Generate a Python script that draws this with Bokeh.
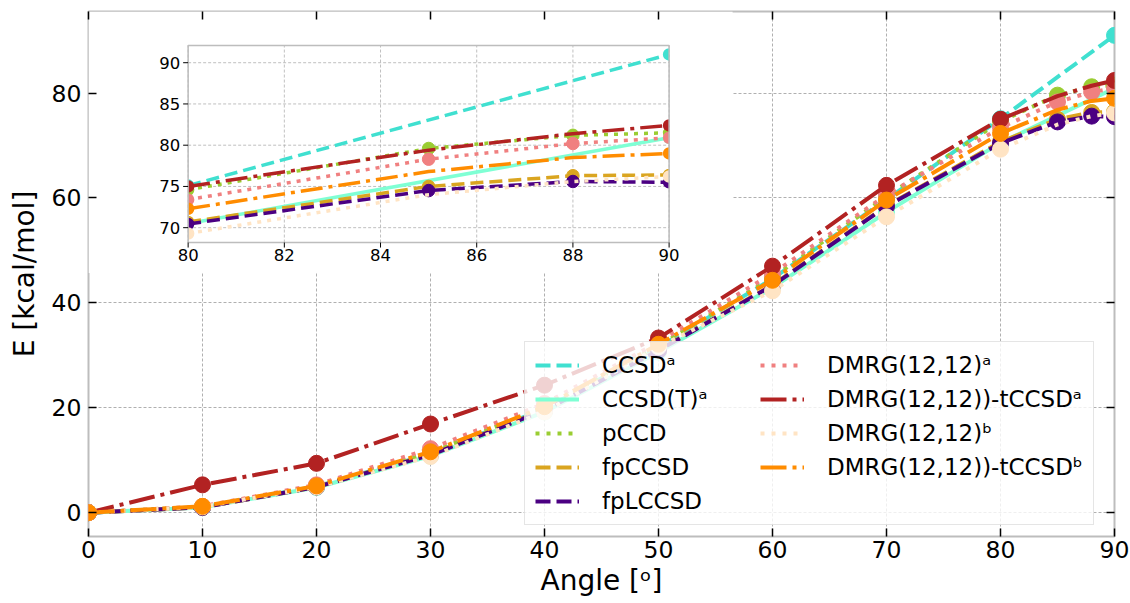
from bokeh.plotting import figure
from bokeh.models import Range1d, LinearAxis, FixedTicker, Legend, LegendItem
from bokeh.embed import file_html
from bokeh.resources import INLINE
from bokeh.core.properties import value

# ---------------- data ----------------
ANGLES = [0, 10, 20, 30, 40, 50, 60, 70, 80, 85, 88, 90]
ANGLES_SHORT = [0, 10, 20, 30, 40, 50, 60, 70, 80, 90]

CCSD_A = [0, 1.1, 5.0, 11.2, 19.8, 31.5, 44.6, 59.7, 75.1, 91.0]
CCSDT_A = [0, 1.0, 4.8, 10.8, 19.2, 30.6, 42.9, 57.3, 70.5, 80.9]
PCCD = [0, 1.1, 5.1, 11.4, 20.1, 31.8, 44.8, 60.3, 74.6, 79.6, 81.2, 81.5]
FPCCSD = [0, 1.0, 4.9, 11.1, 19.6, 31.0, 43.4, 58.5, 70.7, 75.0, 76.3, 76.4]
FPLCCSD = [0, 1.0, 4.9, 11.0, 19.5, 30.9, 43.3, 58.4, 70.45, 74.5, 75.6, 75.5]
DMRG_A = [0, 1.2, 5.3, 12.2, 20.8, 32.5, 45.6, 60.6, 73.4, 78.3, 80.2, 80.9]
TCCSD_A = [0, 5.3, 9.4, 16.9, 24.3, 33.3, 47.0, 62.4, 75.0, 79.4, 81.4, 82.4]
DMRG_B = [0, 1.1, 4.9, 10.7, 19.2, 31.6, 42.3, 56.4, 69.3, 74.0, 75.6, 76.2]
TCCSD_B = [0, 1.2, 5.1, 11.6, 20.2, 32.1, 44.3, 59.6, 72.3, 76.8, 78.5, 79.0]

LABELS = ["CCSDᵃ", "CCSD(T)ᵃ", "pCCD", "fpCCSD", "fpLCCSD",
          "DMRG(12,12)ᵃ", "DMRG(12,12))-tCCSDᵃ", "DMRG(12,12)ᵇ", "DMRG(12,12))-tCCSDᵇ"]
COLORS = ["turquoise", "aquamarine", "yellowgreen", "goldenrod", "indigo",
          "lightcoral", "firebrick", "bisque", "darkorange"]
STYLES = ["dashed", "solid", "dotted", "dashed", "dashed",
          "dotted", "dashdot", "dotted", "dashdot"]

X_TICKS = [0, 10, 20, 30, 40, 50, 60, 70, 80, 90]
Y_TICKS = [0, 20, 40, 60, 80]
INSET_X_TICKS = [80, 82, 84, 86, 88, 90]
INSET_Y_TICKS = [70, 75, 80, 85, 90]

SERIES = [
    (CCSD_A, ANGLES_SHORT, ANGLES_SHORT),
    (CCSDT_A, ANGLES_SHORT, ANGLES_SHORT),
    (PCCD, ANGLES, ANGLES),
    (FPCCSD, ANGLES, ANGLES),
    (FPLCCSD, ANGLES, ANGLES),
    (DMRG_A, ANGLES, ANGLES),
    (TCCSD_A, ANGLES, ANGLES_SHORT),
    (DMRG_B, ANGLES, ANGLES_SHORT),
    (TCCSD_B, ANGLES, ANGLES_SHORT),
]

# ---------------- layout / style ----------------
X_RANGE = (0, 90)
Y_RANGE = (-4.55, 95.55)
INSET_XLIM = (80, 90)
INSET_YLIM = (68.2, 92.1)
# where the inset frame sits, in main-axes data units
INSET_POS = dict(left=8.74, right=50.93, bottom=51.5, top=89.09)
# white backdrop behind the inset and its tick labels
INSET_BG = dict(left=0, right=56.5, bottom=45.7, top=95.55)

DASH_MAIN = {"dashed": "15 6", "dotted": "4 7", "dashdot": "26 6 4 6", "solid": "solid"}
DASH_INSET = {"dashed": "13 6", "dotted": "4 6", "dashdot": "22 6 4 6", "solid": "solid"}
FONT = "DejaVu Sans"
GRID_COLOR = "#b0b0b0"
SPINE_COLOR = "#bdbdbd"

p = figure(width=1130, height=603,
           x_range=Range1d(*X_RANGE), y_range=Range1d(*Y_RANGE),
           output_backend="svg", toolbar_location=None,
           min_border_left=88, min_border_right=16, min_border_top=11, min_border_bottom=67)
p.background_fill_color = "white"
p.border_fill_color = "white"
p.outline_line_color = SPINE_COLOR
p.outline_line_width = 2

p.xaxis.ticker = FixedTicker(ticks=X_TICKS)
p.yaxis.ticker = FixedTicker(ticks=Y_TICKS)
for ax in (p.xaxis, p.yaxis):
    ax.major_tick_in = 8
    ax.major_tick_out = 0
    ax.minor_tick_in = 0
    ax.minor_tick_out = 0
    ax.major_tick_line_color = "black"
    ax.major_tick_line_width = 1.5
    ax.axis_line_color = None
    ax.major_label_text_font = FONT
    ax.major_label_text_font_size = "23.5px"
    ax.major_label_text_color = "black"
    ax.axis_label_text_font = FONT
    ax.axis_label_text_font_size = "28px"
    ax.axis_label_text_font_style = "normal"
    ax.axis_label_text_color = "black"
p.xaxis.major_label_standoff = 4
p.yaxis.major_label_standoff = 7
p.xaxis.axis_label = "Angle [ᵒ]"
p.xaxis.axis_label_standoff = 3
p.yaxis.axis_label = "E [kcal/mol]"
p.yaxis.axis_label_standoff = 8

# ticks on top and right (no labels)
for loc, ticks in (("above", X_TICKS), ("right", Y_TICKS)):
    ax = LinearAxis(ticker=FixedTicker(ticks=ticks),
                    major_label_overrides={t: "" for t in ticks},
                    major_label_text_font_size="1px", major_label_standoff=0,
                    major_tick_in=8, major_tick_out=0, minor_tick_in=0, minor_tick_out=0,
                    major_tick_line_color="black", major_tick_line_width=1.5,
                    axis_line_color=None)
    p.add_layout(ax, loc)

for g in (p.xgrid, p.ygrid):
    g.grid_line_color = GRID_COLOR
    g.grid_line_dash = "3 2"
    g.grid_line_width = 1


def pick(xs, ys, keep):
    pairs = [(a, b) for a, b in zip(xs, ys) if keep(a)]
    return [a for a, _ in pairs], [b for _, b in pairs]


# ---------------- main curves ----------------
items = []
for (vals, xs, marks), label, color, style in zip(SERIES, LABELS, COLORS, STYLES):
    r = p.line(xs, vals, line_color=color, line_width=4, line_dash=DASH_MAIN[style])
    mx, my = pick(xs, vals, lambda a: a in marks)
    p.scatter(mx, my, size=16, fill_color=color, line_color=color)
    items.append(LegendItem(label=label, renderers=[r]))

# ---------------- inset ----------------
p.quad(left=[INSET_BG["left"]], right=[INSET_BG["right"]],
       bottom=[INSET_BG["bottom"]], top=[INSET_BG["top"]],
       fill_color="white", line_color=None)

ins = p.subplot(x_source=Range1d(*INSET_XLIM), y_source=Range1d(*INSET_YLIM),
                x_target=Range1d(INSET_POS["left"], INSET_POS["right"]),
                y_target=Range1d(INSET_POS["bottom"], INSET_POS["top"]))

# inset grid
ins.segment(x0=INSET_X_TICKS, x1=INSET_X_TICKS,
            y0=[INSET_YLIM[0]] * len(INSET_X_TICKS), y1=[INSET_YLIM[1]] * len(INSET_X_TICKS),
            line_color=GRID_COLOR, line_width=0.8, line_dash="3 2")
ins.segment(x0=[INSET_XLIM[0]] * len(INSET_Y_TICKS), x1=[INSET_XLIM[1]] * len(INSET_Y_TICKS),
            y0=INSET_Y_TICKS, y1=INSET_Y_TICKS,
            line_color=GRID_COLOR, line_width=0.8, line_dash="3 2")

for (vals, xs, marks), color, style in zip(SERIES, COLORS, STYLES):
    lx, ly = pick(xs, vals, lambda a: INSET_XLIM[0] <= a <= INSET_XLIM[1])
    ins.line(lx, ly, line_color=color, line_width=3.5, line_dash=DASH_INSET[style])
    # markers inside the frame
    mx, my = pick(xs, vals, lambda a: INSET_XLIM[0] < a < INSET_XLIM[1] and a in marks)
    ins.scatter(mx, my, size=12.5, fill_color=color, line_color=color)
    # markers on the frame edges are clipped to half discs
    ex, ey = pick(xs, vals, lambda a: a == INSET_XLIM[0] and a in marks)
    ins.wedge(ex, ey, radius=6.25, radius_units="screen",
              start_angle=-1.5708, end_angle=1.5708, fill_color=color, line_color=None)
    ex, ey = pick(xs, vals, lambda a: a == INSET_XLIM[1] and a in marks)
    ins.wedge(ex, ey, radius=6.25, radius_units="screen",
              start_angle=1.5708, end_angle=4.7124, fill_color=color, line_color=None)

# inset frame
ins.quad(left=[INSET_XLIM[0]], right=[INSET_XLIM[1]], bottom=[INSET_YLIM[0]], top=[INSET_YLIM[1]],
         fill_color=None, line_color=SPINE_COLOR, line_width=1.5)
# inset ticks (outward)
ins.ray(x=[INSET_XLIM[0]] * len(INSET_Y_TICKS), y=INSET_Y_TICKS, length=5, length_units="screen",
        angle=3.14159, line_color="black", line_width=1)
ins.ray(x=INSET_X_TICKS, y=[INSET_YLIM[0]] * len(INSET_X_TICKS), length=5, length_units="screen",
        angle=-1.5708, line_color="black", line_width=1)
# inset tick labels
ins.text(x=INSET_X_TICKS, y=[INSET_YLIM[0]] * len(INSET_X_TICKS),
         text=[str(t) for t in INSET_X_TICKS], y_offset=6,
         text_align="center", text_baseline="top",
         text_font=value(FONT), text_font_size="16.5px", text_color="black")
ins.text(x=[INSET_XLIM[0]] * len(INSET_Y_TICKS), y=INSET_Y_TICKS,
         text=[str(t) for t in INSET_Y_TICKS], x_offset=-8,
         text_align="right", text_baseline="middle",
         text_font=value(FONT), text_font_size="16.5px", text_color="black")

# ---------------- legend ----------------
legend = Legend(items=items, location=(436, 11), orientation="vertical", ncols=2,
                label_text_font=FONT, label_text_font_size="23px", label_text_color="black",
                glyph_width=44, glyph_height=26, label_height=26, label_standoff=23,
                label_width=150, spacing=8, padding=10, margin=0,
                border_line_color="#cccccc", border_line_width=1,
                background_fill_color="white", background_fill_alpha=0.8)
p.add_layout(legend)

open("out.html", "w").write(file_html(p, INLINE))
